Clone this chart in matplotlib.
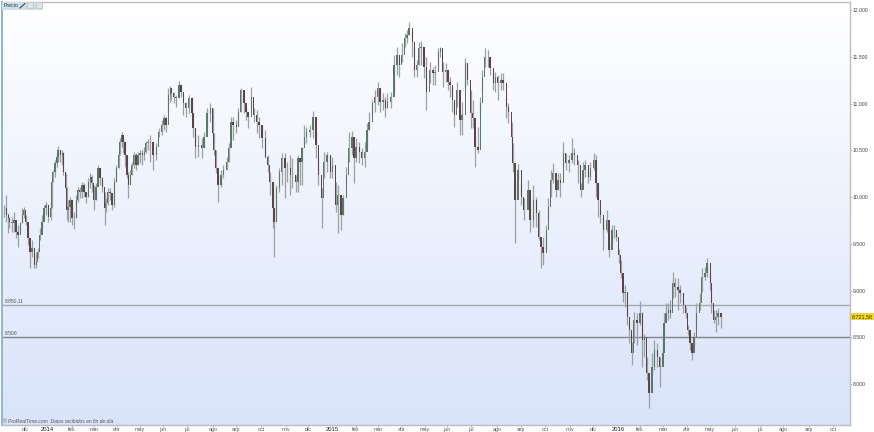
import numpy as np
import matplotlib
matplotlib.use('Agg')
import matplotlib.pyplot as plt
from matplotlib.patches import Rectangle
from matplotlib.lines import Line2D

plt.rcParams['font.family'] = ['Liberation Sans', 'DejaVu Sans']

sessions = [1,3,5,6,8,10,12,14,16,18,19,21,23,25,27,29,31,32,34,36,38,40,42,44,45,46,48,50,51,53,55,56,58,59,
60,62,64,66,68,69,71,73,75,77,79,81,82,84,86,88,90,92,94,95,97,99,101,103,105,107,108,110,111,113,115,116,118,119,
121,123,125,127,129,131,132,134,
136,139,142,144,147,149,151,153,155,156,158,160,163,165,167,169,172,175,176,178,181,184,186,189,192,194,195,197,199,
202,204,207,209,211,213,216,218,220,223,225,227,230,232,235,237,240,243,245,247,250,251,253,256,258,261,263,266,268,271,273,
275,277,279,281,284,287,290,292,295,297,300,303,305,308,310,313,315,318,320,323,325,327,330,332,335,337,339,342,344,347,349,
352,354,356,359,362,365,367,369,372,374,376,379,381,383,385,387,390,392,395,398,400,403,405,407,410,412,
414,416,418,420,423,425,428,430,433,435,437,440,442,444,446,449,451,454,456,458,461,463,466,468,471,472,474,477,480,482,486,
488,491,494,496,498,500,503,505,507,509,512,514,516,519,521,524,527,529,532,535,537,539,542,544,547,549,551,
553,556,559,561,564,566,568,570,572,574,576,578,580,582,584,587,590,592,594,596,598,601,603,606,608,611,612,614,616,618,620,
622,625,627,630,632,634,636,638,640,642,645,647,650,652,655,656,658,660,662,665]

closes = [9879,9808,9772,9736,9719,9754,9629,9594,9719,9808,9861,9736,9558,9416,9451,9273,9309,9416,9594,9736,9879,9915,9790,9879,10164,10271,10360,10432,10503,10449,10467,10271,10093,9861,
9897,9968,9772,9772,9968,10075,10057,10129,10057,10004,10164,10218,10146,9968,10111,10307,10200,10111,9879,9932,10057,10039,9915,10164,10307,10449,10592,10663,10592,10449,10236,10129,10236,10342,
10449,10342,10449,10467,10449,10485,10574,10592,
10592,10449,10539,10699,10770,10842,10770,11091,11162,11109,11073,11055,11198,11127,11002,10948,11055,10895,10735,10539,10556,10521,10645,10895,10948,10681,10503,10307,10129,
10236,10289,10378,10521,10806,10770,10752,10913,11145,11002,10913,10859,11073,10877,10806,10770,10628,10432,10342,10164,9879,9736,10093,10271,10414,10307,10307,10236,10236,10164,10414,
10378,10521,10646,10699,10717,10860,10557,10236,9986,10378,10450,10271,10343,9915,10022,9808,9986,10236,10521,10646,10414,10539,10485,10414,10485,10717,10806,11002,11073,11163,11020,
11038,10949,11020,11073,11412,11519,11412,11519,11697,11733,11804,11662,11359,11412,11590,11608,11394,11127,11359,11323,11341,11555,11590,11341,11359,11234,
11198,11037,10877,11144,10823,10877,11429,11251,10895,10841,10538,10503,11002,11287,11501,11501,11376,11216,11287,11216,11251,11216,10966,10913,10645,10360,9968,10289,10003,9861,10075,
9754,9968,9825,9576,9469,9397,9647,9896,10182,10253,10075,10182,10146,10467,10360,10396,10467,10449,10342,10075,10289,10342,10217,10306,10396,10146,9968,
9808,9647,9754,9433,9647,9647,9576,9380,9184,8970,8988,8720,8578,8328,8685,8649,8756,8471,8506,8114,7900,8185,8364,8292,8185,8328,8649,8756,8792,8756,9077,
9041,9005,8970,8845,8756,8578,8435,8328,8506,8756,8863,9148,9184,9291,9077,8863,8685,8720,8756,8721]

highs = [9915,10022,9826,9790,9790,9843,9665,9701,9736,9879,9897,9808,9701,9487,9540,9380,9416,9451,9665,9808,9915,9950,9879,9950,10182,10289,10396,10467,10549,10503,10503,10485,10253,10111,
9968,10004,9897,9843,10022,10111,10111,10164,10146,10057,10200,10253,10236,10129,10146,10342,10289,10218,10057,9986,10093,10093,10022,10200,10342,10485,10628,10692,10645,10574,10449,10271,10289,10378,
10485,10467,10485,10503,10503,10539,10599,10620,
10663,10485,10574,10735,10824,10877,10859,11162,11187,11162,11127,11091,11241,11198,11055,11020,11091,11073,10895,10735,10663,10628,10699,10948,11002,10948,10681,10503,10236,
10289,10342,10432,10574,10859,10859,10824,10948,11170,11091,10966,10913,11180,10948,10931,10859,10770,10717,10449,10271,10164,9879,10129,10307,10467,10467,10378,10449,10414,10236,10449,
10414,10539,10771,10753,10771,10920,10699,10414,10093,10485,10485,10450,10432,10164,10129,9968,10022,10325,10699,10706,10557,10628,10592,10521,10592,10788,10913,11038,11145,11234,11145,
11109,11073,11109,11127,11519,11608,11501,11644,11751,11787,11876,11769,11608,11466,11662,11669,11519,11501,11448,11394,11412,11590,11601,11448,11430,11341,
11287,11180,11002,11233,10913,11020,11483,11429,11144,11037,10645,10752,11073,11358,11590,11572,11465,11358,11340,11305,11323,11323,11055,11002,10806,10574,10164,10353,10146,9986,10182,
9879,10128,10003,9861,9540,9576,9700,9986,10289,10360,10182,10253,10253,10592,10467,10449,10627,10520,10396,10146,10378,10396,10289,10378,10467,10449,10146,
9861,9772,9861,9522,9701,9701,9629,9440,9326,9095,9059,8845,8649,8453,8774,8756,8891,8774,8535,8292,8043,8328,8471,8435,8292,8542,8756,8863,8863,8899,9202,
9130,9130,9059,8970,8827,8631,8488,8399,8560,8863,8970,9237,9255,9344,9184,9023,8792,8792,8809,8738]

lows = [9790,9736,9612,9665,9629,9629,9558,9469,9629,9719,9772,9701,9487,9237,9362,9237,9244,9344,9540,9665,9772,9808,9736,9754,9879,10164,10218,10325,10378,10378,10342,10236,10075,9754,
9736,9736,9701,9658,9772,9950,9986,9986,10004,9932,10004,10093,10057,9861,9968,10129,10129,10057,9701,9843,9915,9968,9861,9897,10164,10307,10449,10539,10467,10325,10200,9986,10164,10236,
10307,10289,10342,10360,10342,10396,10467,10503,
10378,10289,10396,10645,10663,10717,10699,10913,11020,11038,11002,10966,11109,11073,10877,10859,10895,10859,10645,10414,10432,10414,10539,10735,10806,10628,10449,10253,9943,
10111,10200,10289,10378,10610,10610,10681,10770,10913,10895,10824,10735,10948,10806,10681,10628,10521,10414,10271,10022,9665,9362,9736,10057,10129,9986,10164,10022,10093,10057,10057,
10129,10129,10557,10574,10646,10628,10414,10129,9665,10200,10271,10200,10200,9844,9612,9648,9808,10164,10378,10450,10147,10378,10361,10343,10325,10521,10717,10878,10913,10984,10913,
10931,10860,10949,10949,11109,11305,11287,11448,11608,11644,11733,11501,11287,11287,11412,11412,11270,10931,11216,11198,11198,11394,11501,11180,11234,11145,
11073,10913,10752,10966,10663,10663,11180,11198,10734,10734,10324,10467,10895,11126,11394,11394,11305,11144,11126,11037,11144,11144,10841,10788,10574,10271,9504,10182,9914,9754,10021,
9629,9683,9683,9540,9237,9273,9433,9754,10003,10146,10003,10075,10003,10324,10289,10271,10360,10342,10146,10003,10199,10217,10146,10182,10289,10003,9790,
9718,9433,9629,9362,9504,9558,9533,9291,9130,8881,8827,8631,8435,8203,8435,8417,8631,8185,8292,8043,7740,8096,8150,8185,7971,8292,8524,8720,8685,8702,8916,
8934,8792,8863,8756,8702,8524,8364,8257,8399,8578,8792,8988,9112,9148,9005,8756,8649,8560,8631,8595]

level_values = [8850.11, 8500]
level_labels = ['8.850,11', '8.500']
level_colors = ['#a3a9b0', '#7f868e']
price_ticks = [8000, 8500, 9000, 9500, 10000, 10500, 11000, 11500, 12000]
price_labels = ['8.000', '8.500', '9.000', '9.500', '10.000', '10.500', '11.000', '11.500', '12.000']
last_price = 8721.58
last_label = '8.721,58'

month_ticks = [20.4,40.7,63.9,84.3,105.6,126.9,148.1,170.4,194.4,215.7,238.9,262,282.4,304.6,326.9,347.2,369.4,390.7,
411.1,433.3,457.4,479.6,501.9,525,546.3,569.4,589.8,611.1,633.3,654.6,677.8,700.9,722.2,746.3,768.5]
month_labels = ['dic','2014','feb','mar','abr','may','jun','jul','ago','sep','oct','nov','dic','2015','feb','mar','abr','may',
'jun','jul','ago','sep','oct','nov','dic','2016','feb','mar','abr','may','jun','jul','ago','sep','oct']

n = min(len(sessions), len(closes), len(highs), len(lows))
x = np.array(sessions[:n], dtype=float)
c = np.array(closes[:n], dtype=float)
h = np.maximum(np.array(highs[:n], dtype=float), c)
l = np.minimum(np.array(lows[:n], dtype=float), c)
o = np.concatenate(([c[0]], c[:-1]))

W, H = 874, 432
fig = plt.figure(figsize=(W/100, H/100), dpi=100, facecolor='white')
ax = fig.add_axes([2/W, 1-425/H, 848/W, 423/H])
ax.set_xlim(-0.93, 784.3)
ax.set_ylim(7562, 12086)

# background fade, white on top to pale blue
grad = np.linspace(0, 1, 256).reshape(-1, 1)
top = np.array([1.0, 1.0, 1.0])
bot = np.array([0.85, 0.89, 0.98])
img = top + (bot - top)*grad[..., None]
ax.imshow(img, extent=[-0.93, 784.3, 7562, 12086], origin='upper', aspect='auto', zorder=0)

for v, t, col in zip(level_values, level_labels, level_colors):
    ax.axhline(v, color=col, lw=1.0, zorder=1)
    ax.text(1.5, v+18, t, fontsize=3.6, color='#555555', va='bottom', ha='left')

up = c >= o
ax.vlines(x, l, h, color='#9aa1a1', lw=0.9, zorder=2)
bottoms = np.minimum(o, c)
heights = np.abs(c-o)
ax.bar(x[up], heights[up], bottom=bottoms[up], width=1.3, color='#5b7864', lw=0, zorder=3)
ax.bar(x[~up], heights[~up], bottom=bottoms[~up], width=1.3, color='#5f424b', lw=0, zorder=3)

ax.yaxis.tick_right()
ax.set_yticks(price_ticks)
ax.set_yticklabels(price_labels, fontsize=3.7, color='#444444')
ax.set_xticks(month_ticks)
ax.set_xticklabels(month_labels, fontsize=3.8, color='#555555')
for lab in ax.get_xticklabels():
    if lab.get_text() in ('2014', '2015', '2016'):
        lab.set_color('#222222')
        lab.set_fontsize(4.2)
ax.tick_params(axis='x', length=1.2, width=0.5, color='#999999', pad=0.3)
ax.tick_params(axis='y', length=1.5, width=0.5, color='#999999', pad=0.6)
for s in ['top', 'bottom', 'right']:
    ax.spines[s].set_color('#bdbdbd')
    ax.spines[s].set_linewidth(1)
ax.spines['left'].set_color('#8db8c8')
ax.spines['left'].set_linewidth(1.4)

ax.text(0.0015, 0.003, '© ProRealTime.com  Datos recibidos en fin de día', transform=ax.transAxes,
        fontsize=3.6, style='italic', color='#555555', va='bottom')

# last price tag
ax.annotate(last_label, xy=(1, last_price), xycoords=('axes fraction', 'data'), xytext=(1.6, 0),
            textcoords='offset points', fontsize=3.9, color='#333300', va='center', ha='left',
            annotation_clip=False,
            bbox=dict(boxstyle='square,pad=0.15', fc='#f2d52e', ec='none'))

# header tab
fig.add_artist(Rectangle((2/W, 1-9.5/H), 41/W, 8/H, transform=fig.transFigure, fc='#cfe0ea', ec='none'))
fig.add_artist(Rectangle((27/W, 1-8/H), 6/W, 5.5/H, transform=fig.transFigure, fc='#dfe6e8', ec='#b0b8b8', lw=0.4))
fig.add_artist(Rectangle((36/W, 1-8/H), 6/W, 5.5/H, transform=fig.transFigure, fc='#dfe6e8', ec='#b0b8b8', lw=0.4))
fig.add_artist(Line2D([20/W, 25/W], [1-8/H, 1-3.5/H], transform=fig.transFigure, color='#444444', lw=0.8))
fig.text(3.5/W, 1-5.7/H, 'Precio', fontsize=3.8, color='#333333', va='center')

fig.savefig('out.png', dpi=100)
